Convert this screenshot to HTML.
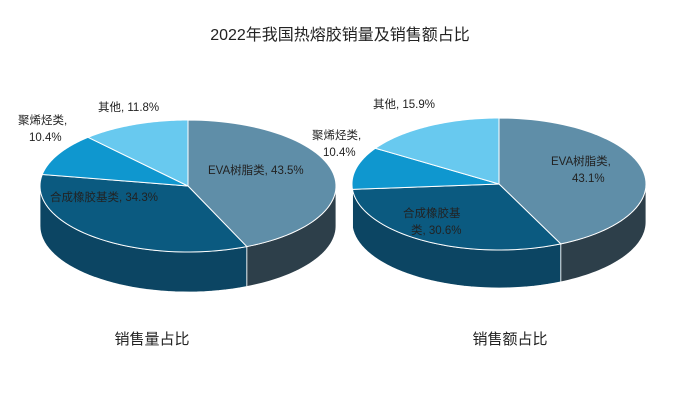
<!DOCTYPE html>
<html><head><meta charset="utf-8"><style>
body{margin:0;background:#fff;width:679px;height:405px;overflow:hidden}
svg{font-family:"Liberation Sans","Noto Sans CJK SC",sans-serif}
</style></head><body>
<svg id="c" width="679" height="405">
<text x="340" y="40" text-anchor="middle" font-size="16" fill="#222">2022年我国热熔胶销量及销售额占比</text>
<text x="152" y="344" text-anchor="middle" font-size="15" fill="#222">销售量占比</text>
<text x="510" y="344" text-anchor="middle" font-size="15" fill="#222">销售额占比</text>
</svg>
<script>
const categories=["EVA树脂类","合成橡胶基类","聚烯烃类","其他"];
const volumeShare=[43.5,34.3,10.4,11.8];
const salesShare=[43.1,30.6,10.4,15.9];
const topColors=["#5f8ea8","#0b5a80","#0f97cf","#68c9ef"];
const sideColors=["#2d3f4a","#0c4563","#0a6f9c","#3fa6cf"];
const NS="http://www.w3.org/2000/svg";
const svg=document.getElementById("c");
function mk(tag,attrs){const e=document.createElementNS(NS,tag);for(const k in attrs)e.setAttribute(k,attrs[k]);svg.appendChild(e);return e;}
function pie(values,cx,cy,rx,ry,depth,prefix){
  const tot=values.reduce((a,b)=>a+b,0);
  const pt=(a,dy)=>[cx+rx*Math.sin(a),cy-ry*Math.cos(a)+(dy||0)];
  let start=0;const angs=[];
  values.forEach(v=>{const e=start+v/tot*2*Math.PI;angs.push([start,e]);start=e;});
  // sides
  angs.forEach(([a1,a2],i)=>{
    const s=Math.max(a1,Math.PI/2),e=Math.min(a2,3*Math.PI/2);
    if(e<=s)return;
    let p=[];const n=40;
    for(let k=0;k<=n;k++)p.push(pt(s+(e-s)*k/n,0));
    for(let k=n;k>=0;k--)p.push(pt(s+(e-s)*k/n,depth));
    const el=mk("polygon",{points:p.map(q=>q.join(",")).join(" "),fill:sideColors[i],stroke:"#fff","stroke-width":"0.8"});
    
    
  });
  angs.forEach(([a1,a2],i)=>{
    let p=[[cx,cy]];const n=60;
    for(let k=0;k<=n;k++)p.push(pt(a1+(a2-a1)*k/n,0));
    const el=mk("polygon",{points:p.map(q=>q.join(",")).join(" "),fill:topColors[i],stroke:"#fff","stroke-width":"1"});
    
    
  });
}
pie(volumeShare,188,186,148,66,40,"volume");
pie(salesShare,499,184,147,66,38,"sales");
function lbl(x,y,t,name){const e=mk("text",{x:x,y:y,"font-size":"11.5",fill:"#222"});e.textContent=t;

}
lbl(208,174,categories[0]+", "+volumeShare[0]+"%","volume-label-eva");
lbl(50,201,categories[1]+", "+volumeShare[1]+"%","volume-label-rubber");
lbl(18,124,categories[2]+",","volume-label-polyolefin");
lbl(29,141,volumeShare[2]+"%","volume-label-polyolefin-value");
lbl(98,111,categories[3]+", "+volumeShare[3]+"%","volume-label-other");
lbl(551,165,categories[0]+",","sales-label-eva");
lbl(572,182,salesShare[0]+"%","sales-label-eva-value");
lbl(403,217,"合成橡胶基","sales-label-rubber");
lbl(411,234,"类, "+salesShare[1]+"%","sales-label-rubber-value");
lbl(312,139,categories[2]+",","sales-label-polyolefin");
lbl(323,156,salesShare[2]+"%","sales-label-polyolefin-value");
lbl(373,108,categories[3]+", "+salesShare[3]+"%","sales-label-other");
</script>
</body></html>
